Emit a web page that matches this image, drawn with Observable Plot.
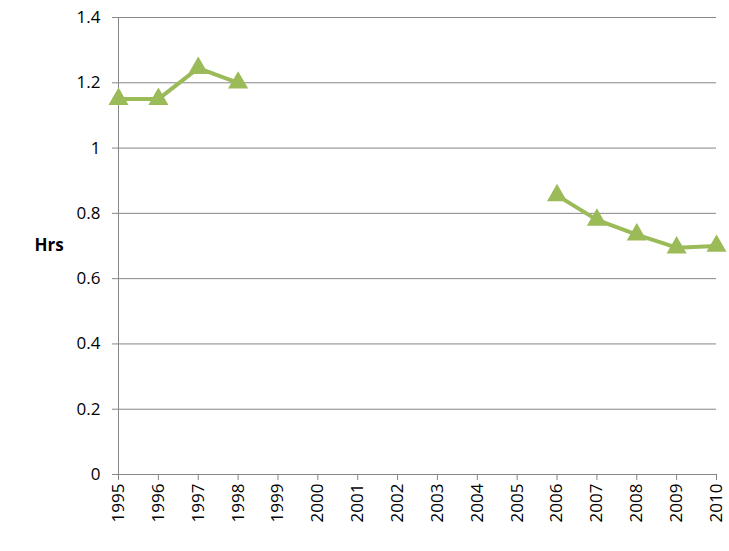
<!DOCTYPE html>
<html><head>
<script src="https://cdn.jsdelivr.net/npm/d3@7"></script>
<script src="https://cdn.jsdelivr.net/npm/@observablehq/plot@0.6"></script>
<style>body{margin:0;background:#fff} svg text{font-size:17px !important;fill:#000 !important}</style>
</head><body><div id="c"></div>
<script>
const years = [1995,1996,1997,1998,1999,2000,2001,2002,2003,2004,2005,2006,2007,2008,2009,2010];
const hrs = [1.15,1.15,1.245,1.20,null,null,null,null,null,null,null,0.855,0.78,0.735,0.695,0.70];
const yTicks = [0,0.2,0.4,0.6,0.8,1,1.2,1.4];
const data = years.map((y,i)=>({year:y, v:hrs[i]}));
const pts = data.filter(d=>d.v!=null);
const col = "#9BBB59";
const chart = Plot.plot({
  width:729, height:551,
  marginLeft:118, marginRight:13, marginTop:17, marginBottom:77,
  style:{fontFamily:"Open Sans, sans-serif", fontSize:"17px", color:"#000"},
  x:{domain:[1995,2010], label:null},
  y:{domain:[0,1.4], label:null},
  marks:[
    Plot.ruleY(yTicks.slice(1), {stroke:"#868686", strokeWidth:1}),
    Plot.ruleX([1995], {stroke:"#868686"}),
    Plot.ruleY([0], {stroke:"#868686"}),
    Plot.axisX({ticks:years, tickFormat:d=>String(d), tickRotate:-90, tickSize:6, tickPadding:3, stroke:"#868686"}),
    Plot.axisY({ticks:yTicks, tickFormat:d=>String(d), tickSize:6, tickPadding:12, stroke:"#868686", anchor:"left"}),
    Plot.line(data, {x:"year", y:"v", stroke:col, strokeWidth:4}),
    Plot.dot(pts, {x:"year", y:"v", symbol:"triangle", fill:col, stroke:col, r:6.5}),
    Plot.text(["Hrs"], {frameAnchor:"left", dx:-84, text:d=>d, fontWeight:"bold", textAnchor:"start"})
  ]
});
document.getElementById("c").appendChild(chart);
</script></body></html>
